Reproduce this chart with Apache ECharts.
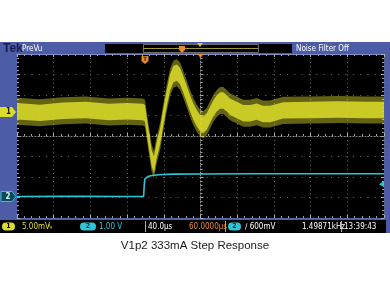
<!DOCTYPE html>
<html><head><meta charset="utf-8">
<script src="https://cdn.jsdelivr.net/npm/echarts@6/dist/echarts.min.js"></script>
<style>html,body{margin:0;padding:0;background:#fff}#c{width:390px;height:292px}</style>
</head><body><div id="c"></div>
<script>
// ---------- data ----------
const ch1TimeUs = [0, 25, 50, 75, 100, 120, 137.3, 139.5, 143.1, 146.8, 149.3, 152.3, 155.9, 159.5, 163.2, 166.8, 170.4, 174.1, 177.7, 181.3, 185.0, 188.6, 192.2, 195.9, 199.5, 203.1, 206.8, 210.4, 214.0, 217.7, 221.3, 224.9, 228.6, 232.2, 239.5, 246.7, 254.0, 261.3, 268, 276, 290, 320, 350, 380, 400];
const ch1mV = [0.2, -0.2, 0.3, 0.5, 0, 0.2, 0, -0.3, -5.9, -11.3, -12.8, -9.2, -6.0, -1.2, 3.4, 7.2, 9.2, 9.6, 8.8, 6.7, 4.4, 2.1, 0.1, -1.5, -2.7, -3.1, -2.3, -0.7, 0.9, 2.1, 2.8, 2.8, 2.1, 1.3, 0.5, -0.3, -0.3, 0.1, -0.5, -0.5, 0.4, 0.5, 0.6, 0.5, 0.5];
const ch1NoiseCoreMv = 2.0;   // dense noise half-width
const ch1NoisePeakMv = 3.3;   // spike half-width
const ch2TimeUs = [0, 60, 120, 138.0, 138.6, 139.3, 140.5, 142.5, 147, 155, 170, 200, 260, 400];
const ch2V = [0, 0.01, 0, 0, 0.5, 0.85, 0.93, 0.97, 1.02, 1.06, 1.09, 1.10, 1.11, 1.11];

const timePerDivUs = 40;
const ch1MvPerDiv = 5;
const ch2VPerDiv = 1;
const ch1OffsetDiv = 1.17;
const ch2OffsetDiv = -2.95;
const triggerTimeUs = 139.5;
const triggerLevelV = 0.6;

const caption = 'V1p2 333mA Step Response';
const topTexts = {tek: 'Tek', mode: 'PreVu', filter: 'Noise Filter Off'};
const statusTexts = {ch1: '5.00mV', coupling: '∿', ch2: '1.00 V', timebase: '40.0µs', position: '60.0000µs', trig: '∕ 600mV', freq: '1.49871kHz', clock: '13:39:43'};

// ---------- helpers ----------
const YEL = '#dcdc2a', CYN = '#2ec6d6', ORG = '#e8892a', BLUE = '#4d5ca6';
const NARROW = '"Liberation Sans Narrow","DejaVu Sans Condensed",sans-serif';
const xd = t => t / timePerDivUs - 5;
const y1 = mv => mv / ch1MvPerDiv + ch1OffsetDiv;
const y2 = v => v / ch2VPerDiv + ch2OffsetDiv;

function band(half, opacity) {
  return {
    type: 'custom', xAxisIndex: 0, yAxisIndex: 0, silent: true, z: 3,
    data: [[0, 0]],
    renderItem: (params, api) => {
      const up = [], lo = [];
      for (let i = 0; i < ch1TimeUs.length; i++) {
        up.push(api.coord([xd(ch1TimeUs[i]), y1(ch1mV[i] + half)]));
        lo.push(api.coord([xd(ch1TimeUs[i]), y1(ch1mV[i] - half)]));
      }
      return {type: 'polygon', shape: {points: up.concat(lo.reverse())}, style: {fill: YEL, opacity: opacity}};
    }
  };
}

const gridRect = {left: 17, top: 54, width: 367, height: 164};
const tickCommon = {
  axisLabel: {show: false},
  axisTick: {show: true, inside: true, length: 3, lineStyle: {color: '#b0b0b0'}},
  minorTick: {show: true, splitNumber: 5, length: 2, lineStyle: {color: '#a0a0a0'}},
};

const option = {
  backgroundColor: '#fff',
  animation: false,
  grid: [
    Object.assign({show: true, backgroundColor: '#000', borderWidth: 0}, gridRect),
    Object.assign({show: false}, gridRect)
  ],
  xAxis: [
    Object.assign({type: 'value', gridIndex: 0, min: -5, max: 5, interval: 1, position: 'bottom',
      axisLine: {show: true, onZero: false, lineStyle: {color: '#5a6aa8'}},
      splitLine: {show: true, lineStyle: {color: '#6e6e6e', width: 1, type: [1, 3.1]}}}, tickCommon),
    Object.assign({type: 'value', gridIndex: 0, min: -5, max: 5, interval: 1, position: 'top',
      axisLine: {show: true, onZero: false, lineStyle: {color: '#7b8bc8'}},
      splitLine: {show: false}}, tickCommon),
    Object.assign({type: 'value', gridIndex: 1, min: -5, max: 5, interval: 1,
      axisLine: {show: true, onZero: true, lineStyle: {color: '#8a8a8a', type: [1, 2]}},
      splitLine: {show: false}}, tickCommon)
  ],
  yAxis: [
    Object.assign({type: 'value', gridIndex: 0, min: -4, max: 4, interval: 1, position: 'left',
      axisLine: {show: false, onZero: false},
      splitLine: {show: true, lineStyle: {color: '#6e6e6e', width: 1, type: [1, 6.3]}}}, tickCommon),
    Object.assign({type: 'value', gridIndex: 0, min: -4, max: 4, interval: 1, position: 'right',
      axisLine: {show: false, onZero: false},
      splitLine: {show: false}}, tickCommon),
    Object.assign({type: 'value', gridIndex: 1, min: -4, max: 4, interval: 1,
      axisLine: {show: true, onZero: true, lineStyle: {color: '#8a8a8a', type: [1, 2]}},
      splitLine: {show: false}}, tickCommon)
  ],
  series: [
    band(ch1NoisePeakMv, 0.45),
    band(ch1NoiseCoreMv, 0.85),
    {
      type: 'line', xAxisIndex: 0, yAxisIndex: 0, z: 4, showSymbol: false, silent: true,
      data: ch2TimeUs.map((t, i) => [xd(t), y2(ch2V[i])]),
      lineStyle: {color: CYN, width: 1.6}
    }
  ]
};

const chart = echarts.init(document.getElementById('c'));
chart.setOption(option);

const px = (x, y) => chart.convertToPixel({gridIndex: 0}, [x, y]);
const c1 = px(-5, ch1OffsetDiv)[1];
const c2 = px(-5, ch2OffsetDiv)[1];
const trigX = px(xd(triggerTimeUs), 0)[0];
const trigY = px(0, y2(triggerLevelV))[1];
const centerX = px(0, 0)[0];
const W = 390;

function txt(text, x, y, fill, size, extra) {
  return Object.assign({type: 'text', z: 100, silent: true,
    style: Object.assign({text: text, x: x, y: y, fill: fill, font: size + 'px ' + NARROW,
      textVerticalAlign: 'middle', verticalAlign: 'middle'}, extra || {})}, {});
}

const graphic = [
  // scope frame
  {type: 'rect', z: -10, silent: true, shape: {x: 0, y: 42, width: W, height: 191}, style: {fill: BLUE}},
  // top overview box
  {type: 'rect', z: 50, silent: true, shape: {x: 105, y: 44, width: 187, height: 9}, style: {fill: '#000'}},
  {type: 'rect', z: 51, silent: true, shape: {x: 143.5, y: 44.5, width: 115, height: 8}, style: {fill: 'none', stroke: '#6c6c6c', lineWidth: 1}},
  {type: 'line', z: 52, silent: true, shape: {x1: 144, y1: 48.5, x2: 258, y2: 48.5}, style: {stroke: '#9a9a3a', lineWidth: 1.2}},
  {type: 'polygon', z: 53, silent: true, shape: {points: [[179, 46], [185, 46], [185, 50], [182, 53], [179, 50]]}, style: {fill: ORG}},
  {type: 'polygon', z: 53, silent: true, shape: {points: [[197, 43], [203, 43], [200, 47]]}, style: {fill: '#d8c040'}},
  txt(topTexts.tek, 3, 48.5, '#141c48', 9, {fontWeight: 'bold', font: 'bold 9px ' + NARROW}),
  txt(topTexts.mode, 22, 48.5, '#ffffff', 8),
  txt(topTexts.filter, 296, 49, '#ffffff', 8),
  // trigger markers on graticule
  {type: 'polygon', z: 60, silent: true, shape: {points: [[centerX - 3, 54], [centerX + 3, 54], [centerX, 58]]}, style: {fill: ORG}},
  {type: 'polygon', z: 60, silent: true, shape: {points: [[trigX - 3.5, 56], [trigX + 3.5, 56], [trigX + 3.5, 61], [trigX, 64], [trigX - 3.5, 61]]}, style: {fill: ORG}},
  txt('T', trigX, 59.5, '#402000', 6, {textAlign: 'center', align: 'center', font: 'bold 6px ' + NARROW}),
  {type: 'polygon', z: 60, silent: true, shape: {points: [[384, trigY - 3], [384, trigY + 3], [379, trigY]]}, style: {fill: CYN}},
  // channel markers
  {type: 'polygon', z: 60, silent: true, shape: {points: [[0, c1 - 5], [12, c1 - 5], [16, c1], [12, c1 + 5], [0, c1 + 5]]}, style: {fill: YEL}},
  txt('1', 6, c1, '#1a1a00', 8, {font: 'bold 8px ' + NARROW}),
  {type: 'polygon', z: 60, silent: true, shape: {points: [[1, c2 - 5], [12, c2 - 5], [16, c2], [12, c2 + 5], [1, c2 + 5]]}, style: {fill: '#0e4a55', stroke: CYN, lineWidth: 1}},
  txt('2', 5.5, c2, '#cff4f8', 8, {font: 'bold 8px ' + NARROW}),
  // status bar
  {type: 'rect', z: 50, silent: true, shape: {x: 0, y: 220, width: 386, height: 13}, style: {fill: '#000'}},
  {type: 'rect', z: 51, silent: true, shape: {x: 2, y: 222.5, width: 13, height: 8, r: 4}, style: {fill: YEL}},
  txt('1', 8.5, 226.5, '#000', 7, {textAlign: 'center', align: 'center', font: 'bold 7px ' + NARROW}),
  txt(statusTexts.ch1, 22, 226.5, YEL, 8),
  txt(statusTexts.coupling, 47, 226.5, YEL, 8),
  {type: 'rect', z: 51, silent: true, shape: {x: 80, y: 222.5, width: 16, height: 8, r: 4}, style: {fill: CYN}},
  txt('2', 88, 226.5, '#003040', 7, {textAlign: 'center', align: 'center', font: 'bold 7px ' + NARROW}),
  txt(statusTexts.ch2, 99, 226.5, CYN, 8),
  {type: 'line', z: 51, silent: true, shape: {x1: 145.5, y1: 221, x2: 145.5, y2: 232}, style: {stroke: '#9aa4d0', lineWidth: 1}},
  txt(statusTexts.timebase, 148, 226.5, '#ffffff', 8),
  txt(statusTexts.position, 189, 226.5, ORG, 8),
  {type: 'line', z: 51, silent: true, shape: {x1: 225.5, y1: 221, x2: 225.5, y2: 232}, style: {stroke: '#9aa4d0', lineWidth: 1}},
  {type: 'rect', z: 51, silent: true, shape: {x: 228, y: 222.5, width: 13, height: 8, r: 4}, style: {fill: CYN}},
  txt('2', 234.5, 226.5, '#003040', 7, {textAlign: 'center', align: 'center', font: 'bold 7px ' + NARROW}),
  txt(statusTexts.trig, 245, 226.5, '#ffffff', 8),
  txt(statusTexts.freq, 302, 226.5, '#ffffff', 8),
  {type: 'line', z: 51, silent: true, shape: {x1: 341.5, y1: 221, x2: 341.5, y2: 232}, style: {stroke: '#9aa4d0', lineWidth: 1}},
  txt(statusTexts.clock, 344, 226.5, '#ffffff', 8),
  // caption
  {type: 'text', z: 100, silent: true, style: {text: caption, x: 195, y: 246, fill: '#1a1a1a',
    font: '11.5px "Liberation Sans", Arial, sans-serif', textAlign: 'center', align: 'center', textVerticalAlign: 'middle', verticalAlign: 'middle'}}
];
chart.setOption({graphic: graphic});
</script>
</body></html>
